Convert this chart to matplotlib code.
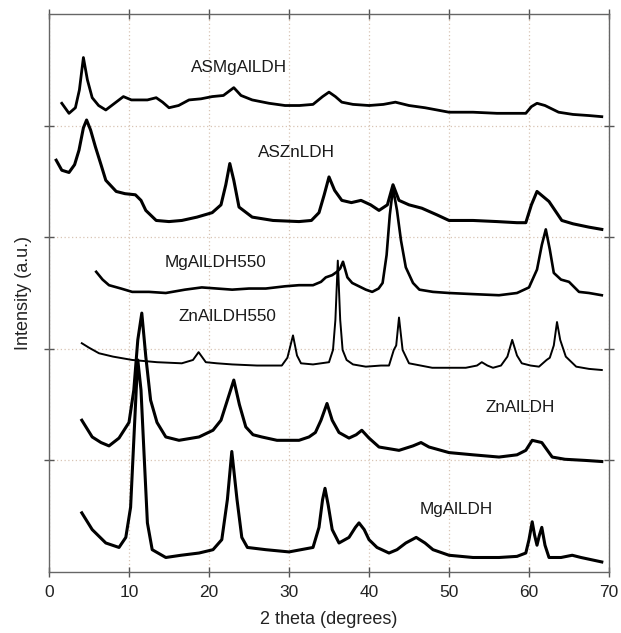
import matplotlib
matplotlib.use("Agg")
import matplotlib.pyplot as plt

plt.rcParams['font.family'] = ['Liberation Sans', 'DejaVu Sans']

# ---- data (2 theta in degrees, intensity in stacked arbitrary units) ----
asmg_x = [1.6, 2.5, 3.3, 3.8, 4.3, 4.8, 5.4, 6.2, 7.1, 8.2, 9.3, 10.3, 11.3, 12.3, 13.4, 14.2, 15.0, 16.2, 17.5, 19.0,
          20.4, 21.8, 23.1, 24.0, 25.4, 27.5, 29.5, 31.3, 33.0, 34.2, 35.0, 35.8, 36.6, 38.0, 40.0, 41.8, 43.3, 45.0, 47.0, 50.0,
          53.0, 56.0, 58.0, 59.6, 60.3, 61.0, 62.0, 63.7, 65.5, 67.5, 69.1]
asmg_y = [4.20, 4.11, 4.16, 4.32, 4.61, 4.41, 4.25, 4.18, 4.14, 4.20, 4.26, 4.23, 4.23, 4.23, 4.25, 4.21, 4.16, 4.18, 4.23, 4.24,
          4.26, 4.27, 4.34, 4.27, 4.23, 4.20, 4.18, 4.18, 4.19, 4.26, 4.30, 4.26, 4.21, 4.19, 4.18, 4.19, 4.21, 4.18, 4.16, 4.12,
          4.12, 4.11, 4.11, 4.11, 4.17, 4.20, 4.18, 4.12, 4.10, 4.09, 4.08]

aszn_x = [0.9, 1.6, 2.5, 3.2, 3.75, 4.3, 4.7, 5.2, 5.8, 6.5, 7.1, 8.4, 9.5, 10.8, 11.5, 12.1, 13.4, 15.0, 16.6, 18.5,
          20.4, 21.5, 22.1, 22.6, 23.1, 23.75, 25.4, 28.0, 31.25, 32.8, 33.75, 34.4, 35.0, 35.7, 36.6, 37.8, 39.0, 40.2, 41.25, 42.3,
          43.0, 43.75, 45.0, 46.6, 48.5, 50.0, 53.0, 56.0, 58.5, 59.6, 60.3, 61.0, 62.5, 64.1, 65.5, 67.5, 69.1]
aszn_y = [3.69, 3.60, 3.58, 3.65, 3.78, 3.98, 4.05, 3.96, 3.81, 3.65, 3.51, 3.41, 3.39, 3.38, 3.33, 3.24, 3.15, 3.14, 3.15, 3.18,
          3.22, 3.29, 3.47, 3.66, 3.51, 3.27, 3.18, 3.15, 3.14, 3.15, 3.22, 3.38, 3.54, 3.42, 3.33, 3.31, 3.33, 3.29, 3.24, 3.29,
          3.47, 3.33, 3.29, 3.26, 3.20, 3.15, 3.15, 3.14, 3.13, 3.13, 3.29, 3.41, 3.32, 3.15, 3.12, 3.09, 3.07]

mg550_x = [5.9, 6.7, 7.5, 9.0, 10.4, 12.5, 14.6, 17.0, 19.1, 21.0, 22.9, 25.0, 27.1, 29.5, 31.25, 33.0, 34.0, 34.6, 35.4, 36.0,
           36.4, 36.75, 37.3, 37.9, 39.6, 40.4, 41.2, 41.7, 42.2, 42.6, 43.0, 43.5, 44.0, 44.6, 45.5, 46.3, 48.0, 50.0, 53.0, 56.25,
           58.5, 60.0, 61.0, 61.6, 62.1, 62.6, 63.1, 64.0, 65.0, 66.25, 67.5, 69.1]
mg550_y = [2.69, 2.62, 2.57, 2.54, 2.51, 2.51, 2.50, 2.53, 2.55, 2.54, 2.53, 2.54, 2.54, 2.56, 2.57, 2.57, 2.60, 2.64, 2.66, 2.69,
           2.72, 2.78, 2.64, 2.59, 2.53, 2.51, 2.54, 2.59, 2.84, 3.20, 3.44, 3.24, 2.97, 2.73, 2.59, 2.53, 2.51, 2.50, 2.49, 2.48,
           2.50, 2.55, 2.71, 2.93, 3.07, 2.89, 2.68, 2.62, 2.60, 2.51, 2.50, 2.48]

zn550_x = [4.1, 5.0, 6.25, 8.0, 10.4, 13.5, 16.6, 18.0, 18.7, 19.6, 21.0, 22.9, 26.0, 29.1, 29.8, 30.5, 31.0, 31.5, 33.0, 35.0,
           35.5, 35.8, 36.1, 36.4, 36.7, 37.2, 38.0, 39.6, 41.5, 42.5, 43.1, 43.4, 43.75, 44.2, 45.0, 47.9, 50.0, 52.1, 53.5, 54.1,
           54.8, 55.5, 56.5, 57.3, 57.9, 58.5, 59.1, 60.2, 61.25, 62.2, 62.6, 63.1, 63.5, 63.9, 64.6, 65.9, 67.5, 69.1]
zn550_y = [2.05, 2.01, 1.96, 1.93, 1.90, 1.88, 1.87, 1.90, 1.97, 1.88, 1.87, 1.86, 1.85, 1.85, 1.92, 2.12, 1.94, 1.87, 1.86, 1.88,
           1.99, 2.26, 2.79, 2.26, 1.99, 1.90, 1.86, 1.84, 1.85, 1.85, 1.99, 2.03, 2.28, 1.99, 1.87, 1.83, 1.83, 1.83, 1.85, 1.88,
           1.85, 1.83, 1.85, 1.93, 2.08, 1.94, 1.87, 1.85, 1.84, 1.90, 1.92, 2.03, 2.24, 2.08, 1.93, 1.84, 1.82, 1.81]

znal_x = [4.1, 5.4, 6.5, 7.5, 8.75, 10.0, 10.6, 11.1, 11.6, 12.1, 12.7, 13.5, 14.6, 16.25, 18.75, 20.5, 21.5, 22.3, 23.1, 23.8,
          24.6, 25.5, 26.6, 28.5, 31.25, 32.5, 33.3, 34.0, 34.75, 35.4, 36.25, 37.5, 38.4, 39.1, 40.0, 41.25, 43.75, 45.5, 46.5, 47.5,
          50.0, 53.0, 56.25, 58.5, 59.6, 60.4, 61.6, 62.3, 62.9, 64.5, 67.0, 69.1]
znal_y = [1.36, 1.21, 1.16, 1.13, 1.20, 1.34, 1.63, 2.08, 2.32, 1.93, 1.54, 1.34, 1.21, 1.18, 1.21, 1.27, 1.36, 1.54, 1.72, 1.50,
          1.30, 1.23, 1.21, 1.18, 1.18, 1.21, 1.25, 1.36, 1.51, 1.36, 1.25, 1.20, 1.23, 1.27, 1.20, 1.12, 1.09, 1.13, 1.16, 1.12,
          1.07, 1.05, 1.03, 1.05, 1.09, 1.18, 1.16, 1.09, 1.03, 1.01, 1.00, 0.99]

mgal_x = [4.1, 5.4, 7.1, 8.75, 9.6, 10.2, 10.6, 10.9, 11.1, 11.5, 11.9, 12.3, 12.9, 14.6, 16.5, 18.75, 20.5, 21.6, 22.3, 22.85,
          23.5, 24.1, 24.8, 27.1, 30.0, 33.0, 33.75, 34.2, 34.5, 34.9, 35.4, 36.25, 37.5, 38.3, 38.75, 39.4, 40.0, 41.0, 42.5, 43.5,
          44.6, 45.9, 47.0, 48.0, 50.0, 53.0, 56.25, 58.5, 59.6, 60.0, 60.4, 60.7, 61.0, 61.3, 61.6, 62.0, 62.5, 64.0, 65.4, 66.5,
          69.1]
mgal_y = [0.53, 0.38, 0.26, 0.22, 0.31, 0.58, 1.18, 1.63, 1.90, 1.63, 1.03, 0.44, 0.20, 0.13, 0.15, 0.17, 0.20, 0.29, 0.65, 1.08,
          0.65, 0.31, 0.22, 0.20, 0.18, 0.22, 0.40, 0.65, 0.75, 0.60, 0.38, 0.26, 0.31, 0.40, 0.44, 0.38, 0.29, 0.22, 0.17, 0.20,
          0.26, 0.31, 0.26, 0.20, 0.15, 0.13, 0.13, 0.14, 0.17, 0.29, 0.45, 0.33, 0.24, 0.33, 0.40, 0.24, 0.13, 0.13, 0.15, 0.13,
          0.09]

labels = ["ASMgAlLDH", "ASZnLDH", "MgAlLDH550", "ZnAlLDH550", "ZnAlLDH", "MgAlLDH"]
label_x = [23.75, 30.9, 20.75, 22.3, 58.9, 50.9]
label_y = [4.52, 3.76, 2.77, 2.29, 1.47, 0.56]

x_ticks = [0, 10, 20, 30, 40, 50, 60, 70]
y_ticks = [1, 2, 3, 4]

# ---- figure ----
fig = plt.figure(figsize=(6.21, 6.33), dpi=100)
ax = fig.add_axes([49 / 621, (633 - 572) / 633, 560 / 621, 558 / 633])

series = [(asmg_x, asmg_y, 2.0), (aszn_x, aszn_y, 2.2), (mg550_x, mg550_y, 1.9),
          (zn550_x, zn550_y, 1.4), (znal_x, znal_y, 2.2), (mgal_x, mgal_y, 2.2)]
for xs, ys, lw in series:
    ax.plot(xs, ys, color='black', lw=lw, solid_joinstyle='round')

for t, tx, ty in zip(labels, label_x, label_y):
    ax.text(tx, ty, t, ha='center', va='center', fontsize=12.3, color='#1a1a1a')

ax.set_xlim(0, 70)
ax.set_ylim(0, 5)
ax.set_xticks(x_ticks)
ax.set_yticks(y_ticks)
ax.set_yticklabels([])
ax.tick_params(axis='both', direction='inout', length=7, width=1, color='#555555',
               top=True, right=True, labelsize=12.5, labelcolor='#222222', pad=6)
ax.grid(True, linestyle=(0, (1, 2)), color='#d8c4b4', lw=0.9)
for s in ax.spines.values():
    s.set_color('#666666')
    s.set_linewidth(1.0)

ax.set_xlabel('2 theta (degrees)', fontsize=13, color='#222222', labelpad=8)
ax.set_ylabel('Intensity (a.u.)', fontsize=13, color='#222222')
ax.yaxis.set_label_coords(-17 / 560, 0.5)

fig.savefig('out.png', dpi=100)
